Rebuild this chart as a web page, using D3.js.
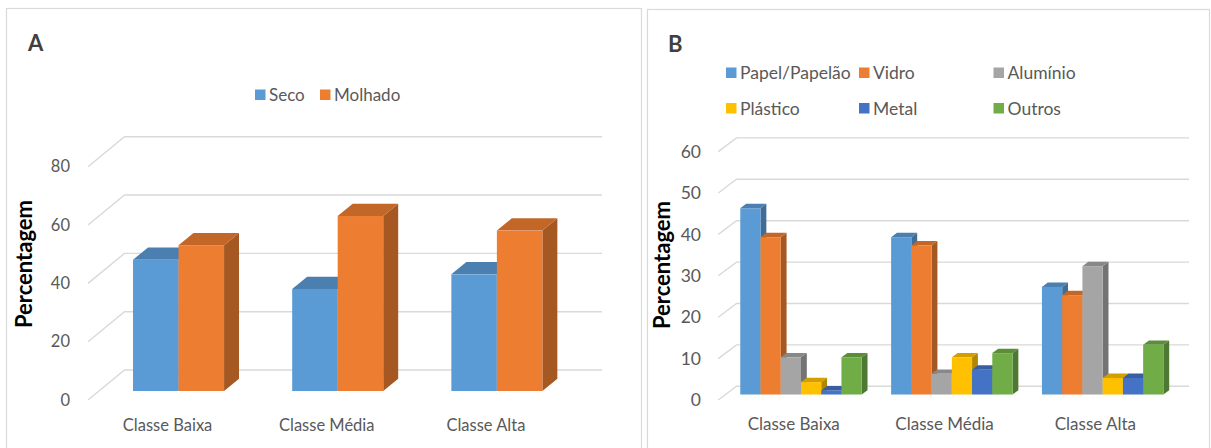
<!DOCTYPE html>
<html>
<head>
<meta charset="utf-8">
<script src="https://cdn.jsdelivr.net/npm/d3@7/dist/d3.min.js"></script>
<style>
  html, body { margin: 0; padding: 0; background: #ffffff; }
  svg { display: block; }
  text { font-family: Lato, "Open Sans", sans-serif; }
</style>
</head>
<body>
<svg id="chart" width="1211" height="448"></svg>
<script>
// ---- data ----
const categories = ["Classe Baixa", "Classe Média", "Classe Alta"];

// Panel A: wet vs dry waste
const seriesA = ["Seco", "Molhado"];
const secoValues = [45, 35, 40];
const molhadoValues = [50, 60, 55];
const ticksA = [0, 20, 40, 60, 80];

// Panel B: recyclable material types
const seriesB = ["Papel/Papelão", "Vidro", "Alumínio", "Plástico", "Metal", "Outros"];
const papelValues = [45, 38, 26];
const vidroValues = [38, 36, 24];
const aluminioValues = [9, 5, 31];
const plasticoValues = [3, 9, 4];
const metalValues = [1, 6, 4];
const outrosValues = [9, 10, 12];
const ticksB = [0, 10, 20, 30, 40, 50, 60];

// ---- styling ----
const palette = {
  "Seco": "#5b9bd5", "Molhado": "#ed7d31",
  "Papel/Papelão": "#5b9bd5", "Vidro": "#ed7d31", "Alumínio": "#a5a5a5",
  "Plástico": "#ffc000", "Metal": "#4472c4", "Outros": "#70ad47"
};
const textGray = "#595959";
const gridGray = "#d9d9d9";

function shade(c, k) { return d3.rgb(c).darker(k).formatHex(); }

const svg = d3.select("#chart");

// panel frames
svg.append("rect").attr("x", 6.5).attr("y", 8.5).attr("width", 635).attr("height", 460)
  .attr("fill", "none").attr("stroke", gridGray).attr("stroke-width", 1.2);
svg.append("rect").attr("x", 647.5).attr("y", 9.5).attr("width", 562).attr("height", 460)
  .attr("fill", "none").attr("stroke", gridGray).attr("stroke-width", 1.2);

function drawPanel(cfg) {
  const g = svg.append("g");

  const x = d3.scaleBand().domain(categories)
    .range([cfg.frontLeft, cfg.frontRight])
    .paddingInner(cfg.pad).paddingOuter(cfg.pad / 2);
  const s = d3.scaleBand().domain(cfg.series).range([0, x.bandwidth()]);
  const y = d3.scaleLinear().domain([0, cfg.max]).range([cfg.floorY, cfg.topY]);

  // back wall + left wall gridlines
  g.append("g").selectAll("path").data(cfg.ticks).join("path")
    .attr("d", t => `M${cfg.frontLeft},${y(t)} L${cfg.frontLeft + cfg.dx},${y(t) - cfg.dy} L${cfg.frontRight + cfg.dx},${y(t) - cfg.dy}`)
    .attr("fill", "none").attr("stroke", gridGray).attr("stroke-width", 1.4);

  // value axis labels
  const yAxis = g.append("g")
    .attr("transform", `translate(${cfg.labelX},0)`)
    .call(d3.axisLeft(y).tickValues(cfg.ticks).tickSize(0).tickPadding(0));
  yAxis.select(".domain").remove();
  yAxis.selectAll("text").attr("fill", textGray).style("font-size", cfg.tickFont + "px")
    .style("font-family", "Lato, sans-serif");

  // category labels
  const xAxis = g.append("g")
    .attr("transform", `translate(0,${cfg.catY})`)
    .call(d3.axisBottom(x).tickSize(0).tickPadding(0));
  xAxis.select(".domain").remove();
  xAxis.selectAll("text").attr("fill", textGray).attr("dy", "0.35em")
    .style("font-size", cfg.catFont + "px").style("font-family", "Lato, sans-serif");

  // 3D bars, painted left to right so right neighbours cover hidden faces
  const bars = [];
  categories.forEach((c, ci) => {
    cfg.series.forEach((sName, si) => {
      bars.push({ cat: c, series: sName, value: cfg.values[si][ci] });
    });
  });
  const ox = cfg.dx * cfg.z0, oy = cfg.dy * cfg.z0;
  const ddx = cfg.dx * (cfg.z1 - cfg.z0), ddy = cfg.dy * (cfg.z1 - cfg.z0);
  const barG = g.append("g");
  bars.forEach(b => {
    const x0 = x(b.cat) + s(b.series) + ox;
    const x1 = x0 + s.bandwidth();
    const yt = y(b.value) - oy;
    const yb = y(0) - oy;
    const col = palette[b.series];
    const bg = barG.append("g");
    bg.append("path")
      .attr("d", `M${x1},${yt} L${x1 + ddx},${yt - ddy} L${x1 + ddx},${yb - ddy} L${x1},${yb} Z`)
      .attr("fill", shade(col, 1.0));
    bg.append("path")
      .attr("d", `M${x0},${yt} L${x1},${yt} L${x1 + ddx},${yt - ddy} L${x0 + ddx},${yt - ddy} Z`)
      .attr("fill", shade(col, 0.55));
    bg.append("rect")
      .attr("x", x0).attr("y", yt).attr("width", x1 - x0).attr("height", yb - yt)
      .attr("fill", col);
  });

  // axis title
  g.append("text")
    .attr("transform", `translate(${cfg.titleX},${cfg.titleY}) rotate(-90)`)
    .attr("text-anchor", "middle").attr("dy", "0.35em")
    .attr("fill", "#000").style("font-weight", "bold").style("font-size", "22px")
    .text("Percentagem");

  // panel letter
  g.append("text").attr("x", cfg.letterX).attr("y", cfg.letterY)
    .attr("fill", "#404040").style("font-weight", "bold").style("font-size", "22px")
    .text(cfg.letter);

  // legend
  const lg = g.append("g");
  cfg.series.forEach((sName, i) => {
    const p = cfg.legendPos[i];
    lg.append("rect").attr("x", p[0]).attr("y", p[1] - 5.5).attr("width", 10.5).attr("height", 10.5)
      .attr("fill", palette[sName]);
    lg.append("text").attr("x", p[0] + 14).attr("y", p[1]).attr("dy", "0.35em")
      .attr("fill", textGray).style("font-size", cfg.legendFont + "px").text(sName);
  });
}

drawPanel({
  letter: "A", letterX: 28, letterY: 51,
  series: seriesA, values: [secoValues, molhadoValues], ticks: ticksA, max: 80,
  frontLeft: 88, frontRight: 565.5, dx: 36.5, dy: 30,
  floorY: 400, topY: 166.7, pad: 0.428, z0: 0.3, z1: 0.71,
  labelX: 70, tickFont: 16.5, catY: 425, catFont: 16.5,
  titleX: 24, titleY: 264,
  legendFont: 17, legendPos: [[255, 95], [320, 95]]
});

drawPanel({
  letter: "B", letterX: 668, letterY: 52,
  series: seriesB,
  values: [papelValues, vidroValues, aluminioValues, plasticoValues, metalValues, outrosValues],
  ticks: ticksB, max: 60,
  frontLeft: 718.3, frontRight: 1170.8, dx: 18.2, dy: 13.7,
  floorY: 400, topY: 151.6, pad: 0.195, z0: 0.4, z1: 0.72,
  labelX: 701, tickFont: 17.5, catY: 424, catFont: 17,
  titleX: 662, titleY: 265,
  legendFont: 17.5,
  legendPos: [[726, 73], [859, 73], [993.5, 73], [726, 108.5], [859, 108.5], [993.5, 108.5]]
});
</script>
</body>
</html>
